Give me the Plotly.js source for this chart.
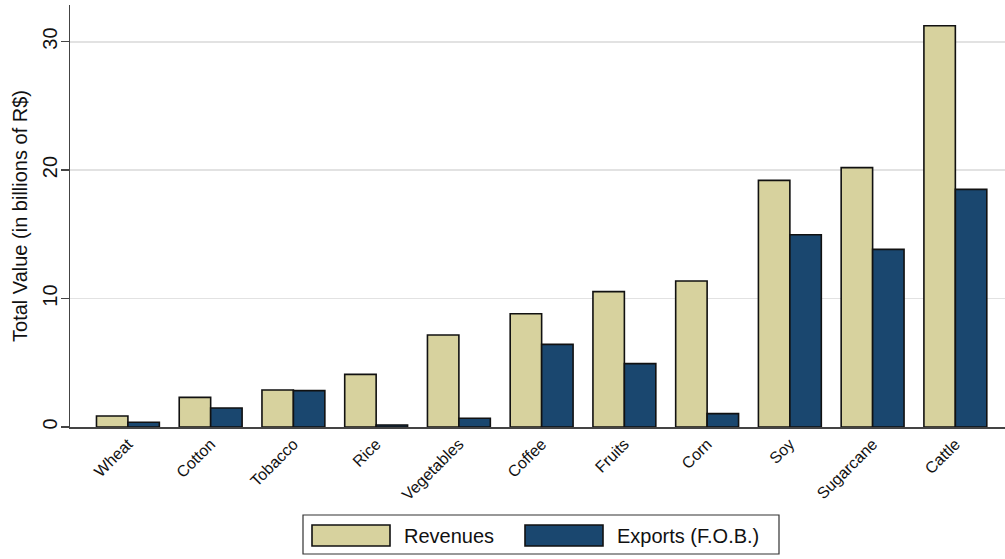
<!DOCTYPE html>
<html>
<head>
<meta charset="utf-8">
<script src="https://cdn.plot.ly/plotly-3.0.1.min.js"></script>
<style>html,body{margin:0;padding:0;background:#fff;}#chart{width:1005px;height:559px;}</style>
</head>
<body>
<div id="chart"></div>
<script>
const categories = ["Wheat","Cotton","Tobacco","Rice","Vegetables","Coffee","Fruits","Corn","Soy","Sugarcane","Cattle"];
const revenues = [0.86, 2.31, 2.88, 4.1, 7.16, 8.82, 10.54, 11.36, 19.2, 20.19, 31.24];
const exportsFOB = [0.37, 1.48, 2.83, 0.16, 0.68, 6.43, 4.93, 1.04, 14.97, 13.83, 18.5];
const seriesNames = ["Revenues", "Exports (F.O.B.)"];
const yTicks = [0, 10, 20, 30];

const W = 1005, H = 559;
const M = {l: 70, r: 0, t: 5, b: 132};
const pw = W - M.l - M.r, ph = H - M.t - M.b;
const px = x => (x - M.l) / pw;
const py = y => (H - M.b - y) / ph;

const FONT = "Liberation Sans, Arial, sans-serif";
const sand = "#d7d29e", navy = "#1a476f";

const traces = [
  {type: "bar", name: seriesNames[0], x: categories.map((c,i)=>i), y: revenues,
   marker: {color: sand, line: {color: "#111", width: 1.6}}, showlegend: false, hoverinfo: "y"},
  {type: "bar", name: seriesNames[1], x: categories.map((c,i)=>i), y: exportsFOB,
   marker: {color: navy, line: {color: "#111", width: 1.6}}, showlegend: false, hoverinfo: "y"}
];

const shapes = [
  {type: "rect", xref: "paper", yref: "paper", x0: px(303), x1: px(779), y0: py(554), y1: py(515),
   line: {color: "#333", width: 1.2}, fillcolor: "rgba(0,0,0,0)"},
  {type: "rect", xref: "paper", yref: "paper", x0: px(312), x1: px(390), y0: py(546), y1: py(525),
   line: {color: "#111", width: 1.6}, fillcolor: sand},
  {type: "rect", xref: "paper", yref: "paper", x0: px(525), x1: px(603), y0: py(546), y1: py(525),
   line: {color: "#111", width: 1.6}, fillcolor: navy}
];
const annotations = [
  {xref: "paper", yref: "paper", x: px(402), y: py(535.5), text: seriesNames[0], showarrow: false,
   xanchor: "left", yanchor: "middle", font: {family: FONT, size: 20, color: "#111"}},
  {xref: "paper", yref: "paper", x: px(615), y: py(535.5), text: seriesNames[1], showarrow: false,
   xanchor: "left", yanchor: "middle", font: {family: FONT, size: 20, color: "#111"}}
];

const layout = {
  width: W, height: H,
  margin: M,
  paper_bgcolor: "#fff", plot_bgcolor: "#fff",
  barmode: "group", bargap: 0.24, bargroupgap: 0,
  font: {family: FONT, color: "#111"},
  xaxis: {
    range: [-0.7, 10.6], tickmode: "array", tickvals: categories.map((c,i)=>i), ticktext: categories,
    tickangle: -45, ticks: "", showgrid: false, zeroline: false,
    showline: true, linecolor: "#444", linewidth: 1.5,
    tickfont: {family: FONT, size: 16, color: "#111"}, fixedrange: true
  },
  yaxis: {
    range: [0, 32.85], tickmode: "array", tickvals: yTicks, ticktext: yTicks.map(String),
    tickangle: -90, ticks: "outside", ticklen: 8, tickwidth: 1.5, tickcolor: "#444",
    ticklabelstandoff: -4,
    showgrid: true, gridcolor: "#e2e2e2", gridwidth: 1.8, zeroline: false,
    showline: true, linecolor: "#444", linewidth: 1.5,
    tickfont: {family: FONT, size: 20, color: "#111"},
    title: {text: "Total Value (in billions of R$)", font: {family: FONT, size: 20, color: "#111"}, standoff: 5},
    fixedrange: true
  },
  shapes: shapes,
  annotations: annotations
};

Plotly.newPlot("chart", traces, layout, {displayModeBar: false, staticPlot: true});
</script>
</body>
</html>
